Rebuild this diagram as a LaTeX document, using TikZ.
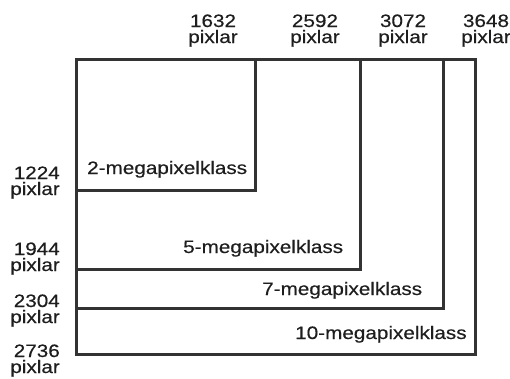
\documentclass[tikz,border=0pt]{standalone}
\usepackage{fontspec}
\newfontfamily\lblfont[FakeStretch=1.15,FakeBold=0.4]{Liberation Sans}
\definecolor{frame}{HTML}{333333}
\definecolor{ink}{HTML}{1E1E1E}
\begin{document}
\begin{tikzpicture}[x=1pt,y=-1pt,
  lbl/.style={inner sep=0pt,text=ink,text height=12pt,text depth=3pt,
    font=\lblfont\fontsize{18}{18}\selectfont},
  toplbl/.style={lbl,anchor=base},
  sidelbl/.style={lbl,anchor=base east},
  classlbl/.style={lbl,anchor=base west},
  boxline/.style={draw=frame,line width=3pt,line cap=rect}]
\useasboundingbox (0,0) rectangle (510,378);

% corners of the nested image sizes
\coordinate (o)  at (76,59);
\coordinate (c2)  at (255,190);
\coordinate (c5)  at (360,269);
\coordinate (c7)  at (443,308);
\coordinate (c10) at (475,354);

% nested frames, all sharing the top-left corner
\draw[boxline] (o) rectangle (c10);
\draw[boxline] (o |- c7) -| (c7 |- o);
\draw[boxline] (o |- c5) -| (c5 |- o);
\draw[boxline] (o |- c2) -| (c2 |- o);

% widths along the top
\node[toplbl] (w1) at (213,27) {1632};
\node[toplbl] (w1p) at (213,43) {pixlar};
\node[toplbl] (w2) at (315,27) {2592};
\node[toplbl] (w2p) at (315,43) {pixlar};
\node[toplbl] (w3) at (403,27) {3072};
\node[toplbl] (w3p) at (403,43) {pixlar};
\node[toplbl] (w4) at (486,27) {3648};
\node[toplbl] (w4p) at (486,43) {pixlar};

% heights along the left side
\node[sidelbl] (h1) at (60,179) {1224};
\node[sidelbl] (h1p) at (60,195) {pixlar};
\node[sidelbl] (h2) at (60,255) {1944};
\node[sidelbl] (h2p) at (60,271) {pixlar};
\node[sidelbl] (h3) at (60,307) {2304};
\node[sidelbl] (h3p) at (60,323) {pixlar};
\node[sidelbl] (h4) at (60,357) {2736};
\node[sidelbl] (h4p) at (60,373) {pixlar};

% class names inside the frames
\node[classlbl] (k2) at (87,174) {2-megapixelklass};
\node[classlbl] (k5) at (183,253) {5-megapixelklass};
\node[classlbl] (k7) at (262,295) {7-megapixelklass};
\node[classlbl] (k10) at (295,339) {10-megapixelklass};
\end{tikzpicture}
\end{document}
